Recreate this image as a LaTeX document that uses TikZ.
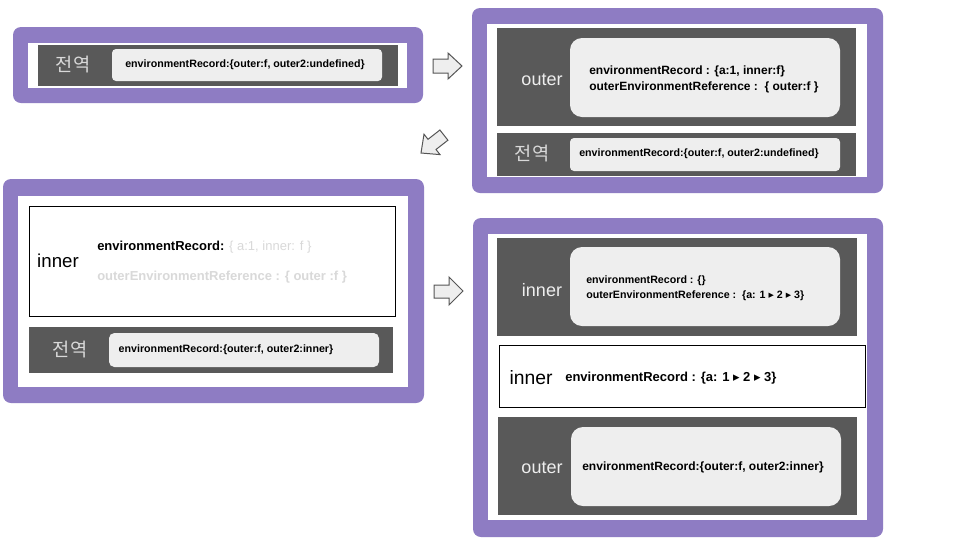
\documentclass[tikz,border=0pt]{standalone}
\usepackage{fontspec}
\setmainfont{Liberation Sans}
\newfontfamily\kr{Noto Sans CJK KR}
\newfontfamily\dv{DejaVu Sans}
\definecolor{pur}{HTML}{8E7CC3}
\definecolor{dk}{HTML}{595959}
\definecolor{lt}{HTML}{EEEEEE}
\definecolor{gt}{HTML}{D9D9D9}
\definecolor{arr}{HTML}{555555}
\newcommand\tri{{\dv ▸}}
\begin{document}
\begin{tikzpicture}[x=0.75pt,y=-0.75pt,
  panel/.style={fill=pur,rounded corners=6pt},
  inwhite/.style={fill=white},
  darkbox/.style={fill=dk},
  lightbox/.style={fill=lt,rounded corners=#1},
  framebox/.style={draw=black,line width=0.75pt,fill=white},
  kor/.style={inner sep=0pt,text=gt,font=\kr\fontsize{14}{14}\selectfont},
  lbl/.style={inner sep=0pt,text=lt,font=\fontsize{13.5}{13.5}\selectfont},
  rec/.style={inner sep=0pt,font=\bfseries\fontsize{8}{8}\selectfont},
  blockarrow/.style={fill=lt,draw=arr,line width=0.75pt,line join=miter}
]
\useasboundingbox (0,0) rectangle (960,540);
\fill[white] (0,0) rectangle (960,540);

% ---------- panel 1 (top left) ----------
\path[panel] (13,27) rectangle (423,103);
\path[inwhite] (28,43) rectangle (407,88);
\path[darkbox] (38,45) rectangle (398,86);
\path[lightbox=3pt] (112,49) rectangle (382,81);
\node[kor] (k1) at (73,65) {전역};
\node[rec] (r1) at (245,65) {environmentRecord:\{outer:f, outer2:undefined\}};

% ---------- panel 2 (top right) ----------
\path[panel] (472,8) rectangle (883,193);
\path[inwhite] (487,24) rectangle (867,177);
\path[darkbox] (497,28) rectangle (856,126);
\path[lightbox=9pt] (570,38) rectangle (840,117);
\node[lbl] (o2) at (542,80) {outer};
\node[rec,anchor=west,font=\bfseries\fontsize{9}{9}\selectfont] (r2a) at (589,71) {environmentRecord : \{a:1, inner:f\}};
\node[rec,anchor=west,font=\bfseries\fontsize{9}{9}\selectfont] (r2b) at (589,87) {outerEnvironmentReference :~~\{ outer:f \}};
\path[darkbox] (497,133) rectangle (856,176);
\path[lightbox=3pt] (570,138) rectangle (840,171);
\node[kor] (k2) at (532,154) {전역};
\node[rec] (r2c) at (699,154) {environmentRecord:\{outer:f, outer2:undefined\}};

% ---------- panel 3 (middle left) ----------
\path[panel] (3,179) rectangle (424,403);
\path[inwhite] (18,196) rectangle (408,387);
\path[framebox] (29,206) rectangle (395,316);
\node[inner sep=0pt,font=\fontsize{14}{14}\selectfont] (i3) at (58,261) {inner};
\node[inner sep=0pt,anchor=west,font=\fontsize{9.75}{9.75}\selectfont] (r3a) at (97,247) {\textbf{environmentRecord:} \textcolor{gt}{\{ a:1, inner: f \}}};
\node[inner sep=0pt,anchor=west,text=gt,font=\bfseries\fontsize{9.75}{9.75}\selectfont] (r3b) at (97,277) {outerEnvironmentReference : \{ outer :f \}};
\path[darkbox] (29,327) rectangle (393,373);
\path[lightbox=4pt] (109,333) rectangle (379,367);
\node[kor] (k3) at (70,350) {전역};
\node[rec] (r3c) at (226,350) {environmentRecord:\{outer:f, outer2:inner\}};

% ---------- panel 4 (bottom right) ----------
\path[panel] (473,218) rectangle (883,537);
\path[inwhite] (488,234) rectangle (867,520);
\path[darkbox] (497,238) rectangle (857,336);
\path[lightbox=9pt] (570,247) rectangle (840,326);
\node[lbl] (i4) at (542,290) {inner};
\node[rec,anchor=west] (r4a) at (586,281) {environmentRecord : \{\}};
\node[rec,anchor=west] (r4b) at (586,296) {outerEnvironmentReference :~~\{a: 1 \tri\ 2 \tri\ 3\}};
\path[framebox] (499,345) rectangle (865,407);
\node[inner sep=0pt,font=\fontsize{14.5}{14.5}\selectfont] (i4b) at (531,378) {inner};
\node[inner sep=0pt,anchor=west,font=\bfseries\fontsize{9.75}{9.75}\selectfont] (r4c) at (565,378) {environmentRecord : \{a: 1 \tri\ 2 \tri\ 3\}};
\path[darkbox] (498,417) rectangle (857,515);
\path[lightbox=9pt] (571,427) rectangle (841,506);
\node[lbl] (o4) at (542,468) {outer};
\node[rec,font=\bfseries\fontsize{9}{9}\selectfont] (r4d) at (703,467) {environmentRecord:\{outer:f, outer2:inner\}};

% ---------- block arrows ----------
\draw[blockarrow] (433,59) -- (448,59) -- (448,53) -- (462,66) -- (448,79) -- (448,73) -- (433,73) -- cycle;
\draw[blockarrow] (447.9,140.2) -- (436.0,149.5) -- (440.0,154.6) -- (421,153) -- (424.0,134.2) -- (428.0,139.3) -- (439.9,130.0) -- cycle;
\draw[blockarrow] (434,285) -- (449,285) -- (449,277) -- (463,291) -- (449,305) -- (449,298) -- (434,298) -- cycle;
\end{tikzpicture}
\end{document}
